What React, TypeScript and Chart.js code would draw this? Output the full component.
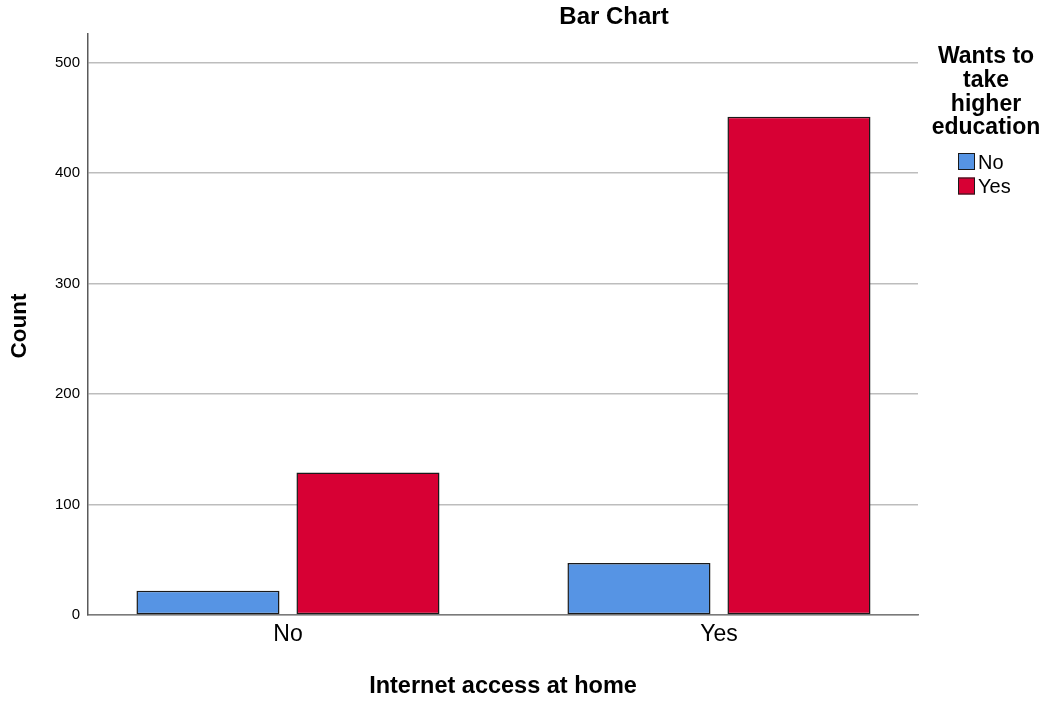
import React, { useEffect, useRef } from "react";
import { Chart, registerables } from "chart.js";

Chart.register(...registerables);

const categories = ["No", "Yes"];
const seriesNames = ["No", "Yes"];
const seriesNo = [22, 47];
const seriesYes = [129, 451];
const yTickValues = [0, 100, 200, 300, 400, 500];
const legendTitleLines = ["Wants to", "take", "higher", "education"];

const FONT = '"Liberation Sans", Arial, sans-serif';
const BLUE = "#5694e4";
const RED = "#d70034";
const BORDER = "#1a1a1a";

const textPlugin = {
  id: "textPlugin",
  afterDraw(chart: any) {
    const ctx = chart.ctx as CanvasRenderingContext2D;
    const area = chart.chartArea;
    ctx.save();
    ctx.fillStyle = "#000";
    ctx.textAlign = "center";
    ctx.textBaseline = "middle";
    ctx.font = `bold 24px ${FONT}`;
    ctx.fillText("Bar Chart", 614, 17);
    ctx.font = `bold 23.5px ${FONT}`;
    ctx.fillText("Internet access at home", (area.left + area.right) / 2, 687);
    ctx.save();
    ctx.translate(20, 326);
    ctx.rotate(-Math.PI / 2);
    ctx.font = `bold 22.5px ${FONT}`;
    ctx.fillText("Count", 0, 0);
    ctx.restore();
    ctx.font = `bold 23px ${FONT}`;
    legendTitleLines.forEach((line, i) => {
      ctx.fillText(line, 986, 57 + i * 23.7);
    });
    const colors = [BLUE, RED];
    ctx.font = `20px ${FONT}`;
    ctx.textAlign = "left";
    seriesNames.forEach((name, i) => {
      const y = 153 + i * 24.5;
      ctx.fillStyle = colors[i];
      ctx.fillRect(958, y, 17, 17);
      ctx.strokeStyle = BORDER;
      ctx.lineWidth = 1;
      ctx.strokeRect(958.5, y + 0.5, 16, 16);
      ctx.fillStyle = "#000";
      ctx.fillText(name, 978, y + 10);
    });
    ctx.restore();
  },
};

export default function App() {
  const canvasRef = useRef<HTMLCanvasElement | null>(null);

  useEffect(() => {
    if (!canvasRef.current) return;
    const chart = new Chart(canvasRef.current, {
      type: "bar",
      data: {
        datasets: [
          {
            label: seriesNames[0],
            data: seriesNo.map((v, i) => ({ x: i, y: v })),
            backgroundColor: BLUE,
            borderColor: BORDER,
            borderWidth: 1.5,
            borderSkipped: false,
          },
          {
            label: seriesNames[1],
            data: seriesYes.map((v, i) => ({ x: i, y: v })),
            backgroundColor: RED,
            borderColor: BORDER,
            borderWidth: 1.5,
            borderSkipped: false,
          },
        ],
      },
      options: {
        animation: false,
        responsive: false,
        categoryPercentage: 0.7425,
        barPercentage: 0.894,
        layout: { padding: { top: 34, right: 128, bottom: 0, left: 0 } },
        plugins: {
          legend: { display: false },
          title: { display: false },
          tooltip: { enabled: false },
        },
        scales: {
          x: {
            type: "linear",
            offset: false,
            min: -0.464,
            max: 1.4618,
            afterBuildTicks: (scale: any) => {
              scale.ticks = categories.map((_, i) => ({ value: i }));
            },
            afterFit: (scale: any) => {
              scale.height = 87;
            },
            grid: { display: false, drawTicks: false, offset: false },
            border: { display: true, color: "#7a7a7a", width: 1.5 },
            ticks: {
              font: { family: FONT, size: 23 },
              color: "#000",
              padding: 6,
              callback: (v: any) => categories[v as number] ?? "",
            },
          },
          y: {
            type: "linear",
            min: 0,
            max: 526,
            afterBuildTicks: (scale: any) => {
              scale.ticks = yTickValues.map((v) => ({ value: v }));
            },
            afterFit: (scale: any) => {
              scale.width = 88;
            },
            grid: { color: "#bdbdbd", lineWidth: 1.5, drawTicks: false },
            border: { display: true, color: "#5a5a5a", width: 1.5 },
            ticks: {
              font: { family: FONT, size: 15 },
              color: "#000",
              padding: 8,
            },
          },
        },
      },
      plugins: [textPlugin],
    } as any);
    return () => chart.destroy();
  }, []);

  return (
    <div style={{ position: "absolute", left: 0, top: 0, width: 1046, height: 702, background: "#fff" }}>
      <canvas ref={canvasRef} width={1046} height={702} style={{ display: "block" }} />
    </div>
  );
}
